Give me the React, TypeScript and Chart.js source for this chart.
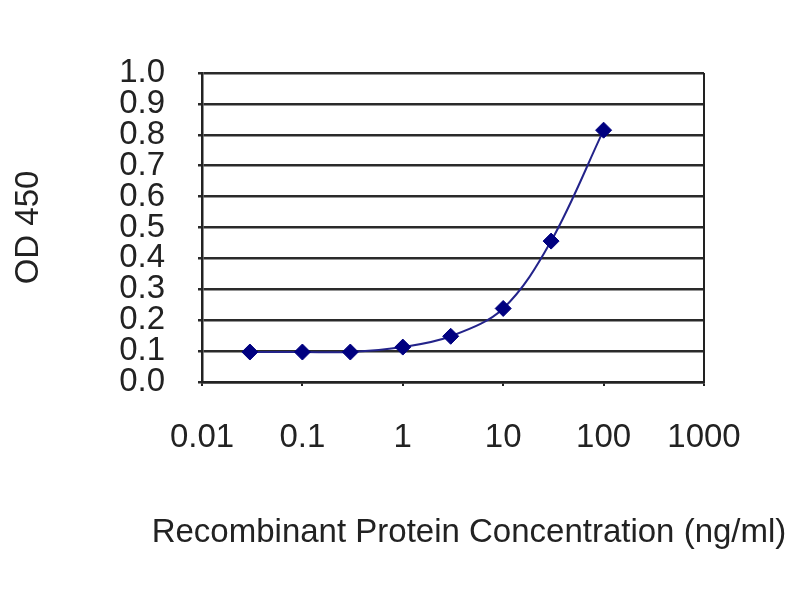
import React, { useEffect, useRef } from "react";
import { Chart, registerables } from "chart.js";

Chart.register(...registerables);

const CONCENTRATIONS = [0.03, 0.1, 0.3, 1, 3, 10, 30, 100];
const OD_VALUES = [0.097, 0.097, 0.097, 0.113, 0.148, 0.238, 0.456, 0.815];
const X_TICKS = [0.01, 0.1, 1, 10, 100, 1000];
const X_TICK_LABELS = ["0.01", "0.1", "1", "10", "100", "1000"];
const Y_TITLE = "OD 450";
const X_TITLE = "Recombinant Protein Concentration (ng/ml)";

const FONT = "'Liberation Sans', Arial, sans-serif";
const TEXT_COLOR = "#222";

export default function App() {
  const ref = useRef<HTMLCanvasElement | null>(null);

  useEffect(() => {
    if (!ref.current) return;
    const framePlugin = {
      id: "frame",
      beforeDraw(chart: any) {
        const { ctx, width, height } = chart;
        ctx.save();
        ctx.fillStyle = "#fff";
        ctx.fillRect(0, 0, width, height);
        ctx.restore();
      },
      afterDraw(chart: any) {
        const { ctx, chartArea } = chart;
        ctx.save();
        ctx.strokeStyle = "#222";
        ctx.lineWidth = 2;
        ctx.beginPath();
        ctx.moveTo(chartArea.right, chartArea.top);
        ctx.lineTo(chartArea.right, chartArea.bottom);
        ctx.stroke();
        ctx.fillStyle = TEXT_COLOR;
        ctx.font = `33px ${FONT}`;
        ctx.textAlign = "center";
        ctx.textBaseline = "middle";
        ctx.fillText(X_TITLE, 469, 533);
        ctx.restore();
      },
    };

    const chart = new Chart(ref.current, {
      type: "line",
      data: {
        datasets: [
          {
            data: CONCENTRATIONS.map((x, i) => ({ x, y: OD_VALUES[i] })),
            borderColor: "#23238a",
            backgroundColor: "#000080",
            borderWidth: 2,
            tension: 0.35,
            pointStyle: "rectRot",
            pointRadius: 8,
            pointBackgroundColor: "#000080",
            pointBorderColor: "#000080",
            pointBorderWidth: 1,
            fill: false,
          },
        ],
      },
      options: {
        animation: false,
        responsive: false,
        devicePixelRatio: 1,
        layout: { padding: { top: 73, right: 96, left: 0, bottom: 0 } },
        plugins: {
          legend: { display: false },
          tooltip: { enabled: false },
        },
        scales: {
          x: {
            type: "logarithmic",
            min: 0.01,
            max: 1000,
            afterBuildTicks: (scale: any) => {
              scale.ticks = X_TICKS.map((v) => ({ value: v }));
            },
            afterFit: (scale: any) => {
              scale.height = 218;
            },
            grid: {
              drawOnChartArea: false,
              drawTicks: true,
              tickLength: 4,
              color: "#222",
              lineWidth: 2,
            },
            border: { display: true, color: "#222", width: 2.5 },
            ticks: {
              autoSkip: false,
              maxRotation: 0,
              padding: 32,
              color: TEXT_COLOR,
              font: { family: FONT, size: 33 },
              callback: (value: any) => {
                const idx = X_TICKS.indexOf(Number(value));
                return idx >= 0 ? X_TICK_LABELS[idx] : "";
              },
            },
          },
          y: {
            type: "linear",
            min: 0,
            max: 1,
            afterFit: (scale: any) => {
              scale.width = 202;
            },
            grid: {
              color: "#2a2a2a",
              lineWidth: 2.5,
              drawTicks: true,
              tickLength: 4,
            },
            border: { display: true, color: "#222", width: 2.5 },
            ticks: {
              stepSize: 0.1,
              autoSkip: false,
              padding: 33,
              color: TEXT_COLOR,
              font: { family: FONT, size: 33 },
              callback: (value: any) => Number(value).toFixed(1),
            },
            title: {
              display: true,
              text: Y_TITLE,
              color: TEXT_COLOR,
              font: { family: FONT, size: 33, lineHeight: 1 },
              padding: { top: 12, bottom: 0 },
            },
          },
        },
      },
      plugins: [framePlugin],
    } as any);

    return () => chart.destroy();
  }, []);

  return (
    <div style={{ position: "absolute", left: 0, top: 0, width: 800, height: 600 }}>
      <canvas ref={ref} width={800} height={600} />
    </div>
  );
}
